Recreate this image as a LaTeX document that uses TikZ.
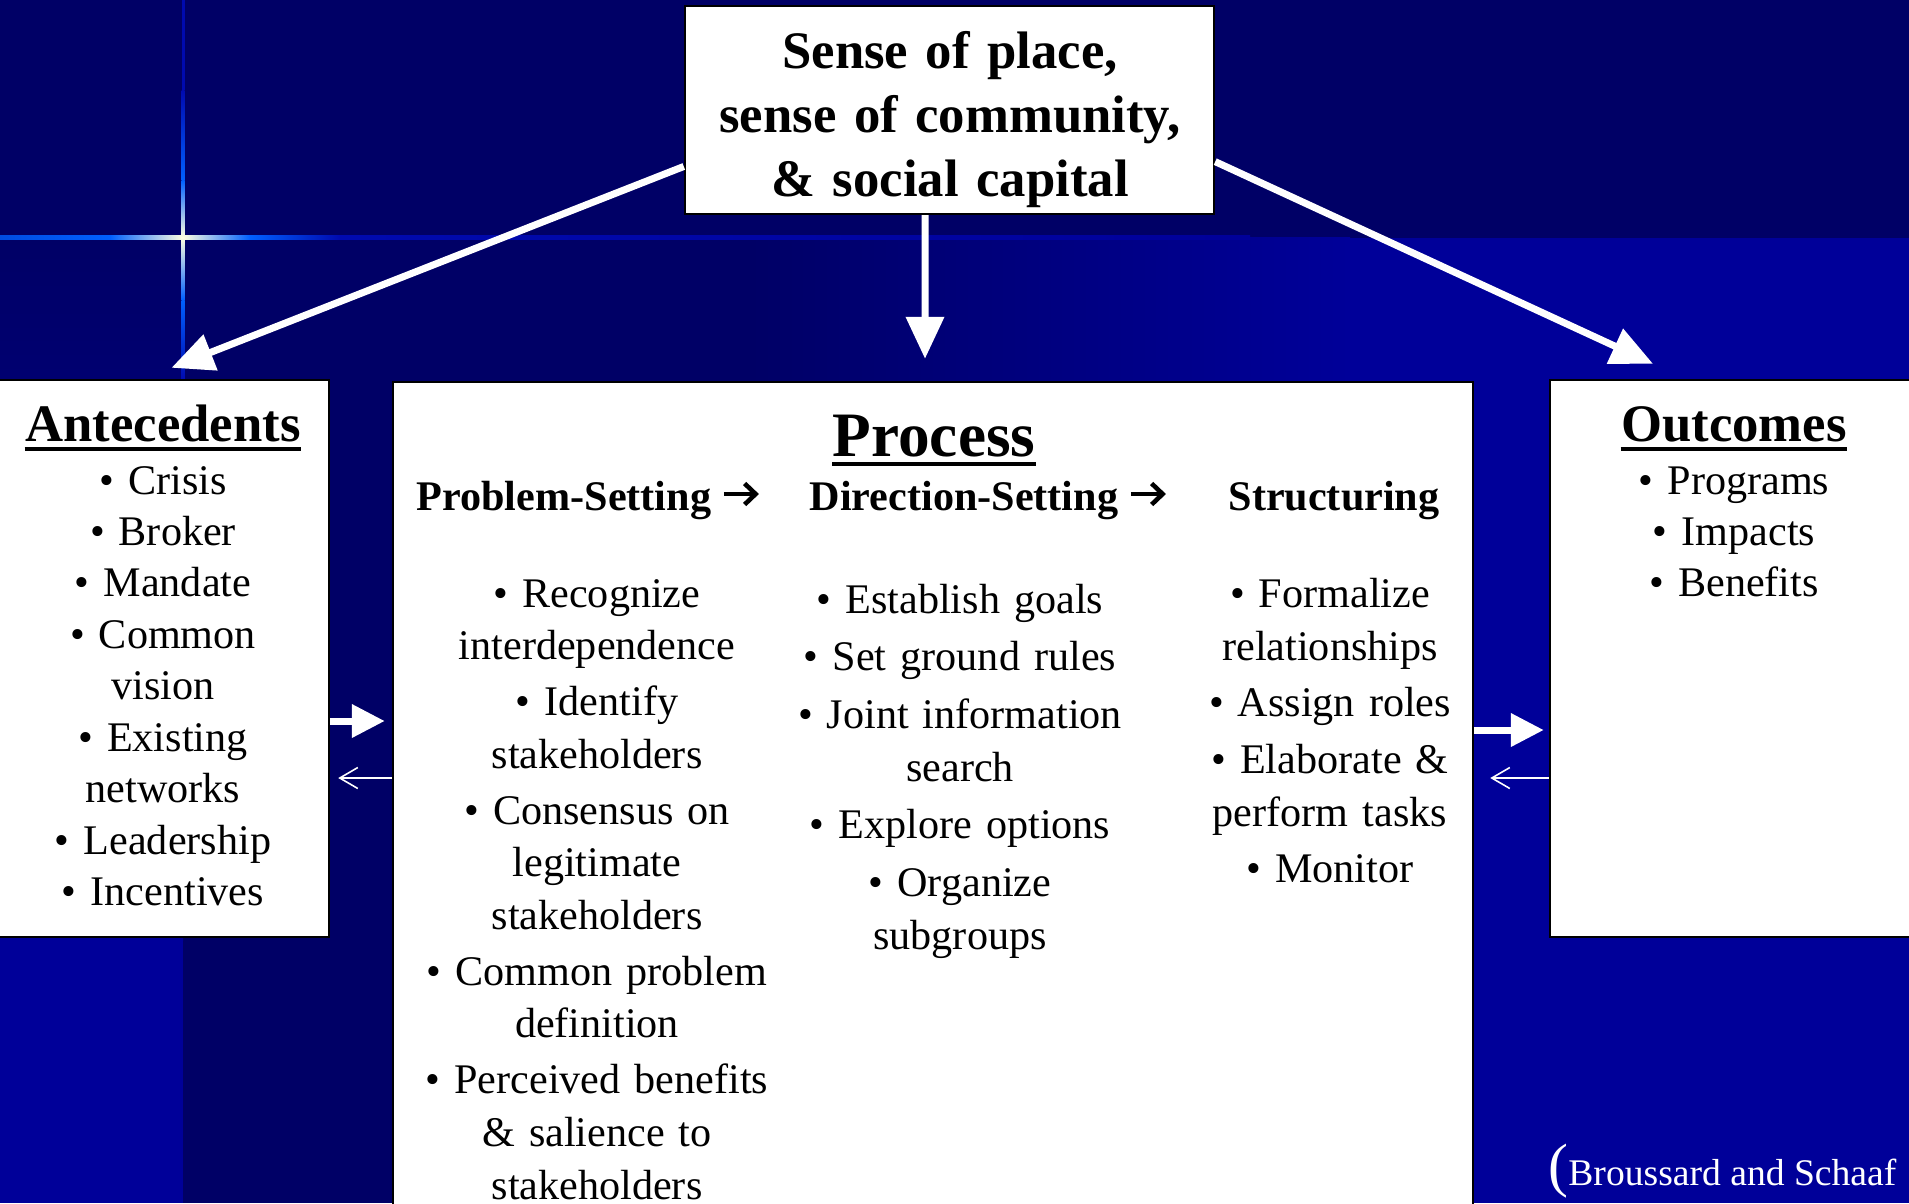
\documentclass[tikz,border=0pt]{standalone}
\usepackage{fontspec}
\setmainfont{Liberation Serif}
\usetikzlibrary{arrows.meta}
\definecolor{bgdark}{RGB}{0,0,102}
\definecolor{bgbright}{RGB}{0,0,153}
\definecolor{glintdim}{RGB}{0,10,175}
\definecolor{glintblue}{RGB}{0,95,255}
\definecolor{glintcore}{RGB}{255,255,225}
\def\underrule(#1){\draw[line width=1.1pt] ([yshift=-2.2pt]#1.base west) -- ([yshift=-2.2pt]#1.base east);}
\def\steparrow{\tikz[baseline=-0.16cm]\draw[line width=1.3pt, -{Straight Barb[length=1.1mm,width=2.1mm]}] (0, 0) -- (0.35, 0);}
\tikzset{
	panel/.style={draw=black, line width=0.7pt, fill=white, inner sep=0pt},
	boxtext/.style={font=\bfseries\fontsize{15}{18.2}\selectfont, text width=5.2cm, align=center, anchor=base, inner sep=0pt},
	heading/.style={font=\bfseries\fontsize{15}{18}\selectfont, anchor=base, inner sep=0pt},
	colhead/.style={font=\bfseries\fontsize{12}{14}\selectfont, anchor=base, inner sep=0pt},
	itemlist/.style={font=\fontsize{12}{15.08}\selectfont, align=center, anchor=base, inner sep=0pt},
	bigarrow/.style={white, line width=2pt, -{Triangle[length=4.2mm,width=3.7mm]}},
	sidearrow/.style={white, line width=2pt, -{Triangle[length=3.3mm,width=3.2mm]}},
	backarrow/.style={white, line width=0.45pt, -{Straight Barb[length=1.8mm,width=2.1mm]}}
}

\begin{document}
\begin{tikzpicture}
	%%%%% START %%%%%
	\clip (0, 0) rectangle (19.09, -12.03);
	
	\fill[bgdark] (0, 0) rectangle (19.09, -12.03);
	\shade[left color=bgdark, right color=bgbright] (7.5, -2.375) rectangle (13.5, -12.03);
	\fill[bgbright] (13.5, -2.375) rectangle (19.09, -12.03);
	\shade[top color=bgdark, bottom color=bgbright] (0, -2.375) rectangle (1.83, -9.4);
	\fill[bgbright] (0, -9.4) rectangle (1.83, -12.03);
	
	% glint lines
	\shade[left color=glintblue!80!bgdark, right color=glintblue] (0, -2.355) rectangle (1.1, -2.395);
	\shade[left color=glintblue, right color=glintcore] (1.1, -2.355) rectangle (1.83, -2.395);
	\shade[left color=glintcore, right color=glintblue] (1.83, -2.355) rectangle (2.5, -2.395);
	\shade[left color=glintblue, right color=glintdim] (2.5, -2.355) rectangle (3.4, -2.395);
	\shade[left color=glintdim, right color=bgbright] (3.4, -2.355) rectangle (12.5, -2.395);
	\fill[glintdim] (1.815, 0) rectangle (1.845, -0.9);
	\shade[top color=glintdim, bottom color=glintblue] (1.815, -0.9) rectangle (1.845, -1.8);
	\shade[top color=glintblue, bottom color=glintcore] (1.815, -1.8) rectangle (1.845, -2.375);
	\shade[top color=glintcore, bottom color=glintblue] (1.815, -2.375) rectangle (1.845, -3.0);
	\shade[top color=glintblue, bottom color=glintdim] (1.815, -3.0) rectangle (1.845, -3.8);
	
	\node[panel, minimum width=5.29cm, minimum height=2.08cm] (top) at (9.495, -1.1) {};
	\node[panel, minimum width=3.39cm, minimum height=5.57cm] (ante) at (1.595, -6.585) {};
	\node[panel, minimum width=10.8cm, minimum height=8.4cm] (proc) at (9.33, -8.02) {};
	\node[panel, minimum width=3.65cm, minimum height=5.57cm] (outc) at (17.325, -6.585) {};
	
	\draw[bigarrow] (top.192) -- ([xshift=1.2mm, yshift=1.1mm]ante.north);
	\draw[bigarrow] ([xshift=-2.45mm]top.south) -- ([xshift=-0.8mm, yshift=2.2mm]proc.north);
	\draw[bigarrow] (top.349) -- ([xshift=-7.95mm, yshift=1.5mm]outc.north);
	
	\draw[sidearrow, shorten >=0.7mm] (ante.east |- 0, -7.21) -- (proc.west |- 0, -7.21);
	\draw[backarrow, shorten >=0.8mm] (proc.west |- 0, -7.78) -- (ante.east |- 0, -7.78);
	\draw[sidearrow, shorten >=0.5mm] (proc.east |- 0, -7.3) -- (outc.west |- 0, -7.3);
	\draw[backarrow, shorten >=1.6mm] (outc.west |- 0, -7.78) -- (proc.east |- 0, -7.78);
	
	\node[boxtext] (toptxt) at (9.5, -0.685) {Sense of place,\\sense of community,\\\& social capital};
	
	\node[heading] (anteT) at (1.63, -4.41) {Antecedents};
	\underrule(anteT)
	\node[itemlist, text width=3.2cm, font=\fontsize{12}{14.65}\selectfont] (anteL) at (1.63, -4.94) {• Crisis\\• Broker\\• Mandate\\• Common\\vision\\• Existing\\networks\\• Leadership\\• Incentives};
	
	\node[heading, font=\bfseries\fontsize{18}{22}\selectfont] (procT) at (9.34, -4.56) {Process};
	\underrule(procT)
	\node[colhead] (probH) at (5.89, -5.1) {Problem-Setting \steparrow};
	\node[colhead] (dirH) at (9.89, -5.1) {Direction-Setting \steparrow};
	\node[colhead] (strH) at (13.34, -5.1) {Structuring};
	\node[itemlist, text width=3.6cm, font=\fontsize{12}{14.95}\selectfont] (probL) at (5.97, -6.07) {• Recognize\\interdependence\\[1pt]• Identify\\stakeholders\\[1pt]• Consensus on\\legitimate\\stakeholders\\[1pt]• Common problem\\definition\\[1pt]• Perceived benefits\\\& salience to\\stakeholders};
	\node[itemlist, text width=3.6cm] (dirL) at (9.6, -6.13) {• Establish goals\\[1.3pt]• Set ground rules\\[1.3pt]• Joint information\\search\\[1.3pt]• Explore options\\[1.3pt]• Organize\\subgroups};
	\node[itemlist, text width=3.2cm] (strL) at (13.3, -6.07) {• Formalize\\relationships\\[1pt]• Assign roles\\[1pt]• Elaborate \&\\perform tasks\\[1pt]• Monitor};
	
	\node[heading] (outcT) at (17.34, -4.41) {Outcomes};
	\underrule(outcT)
	\node[itemlist, text width=3.2cm, font=\fontsize{12}{14.65}\selectfont] (outcL) at (17.34, -4.94) {• Programs\\• Impacts\\• Benefits};
	
	\node[anchor=base east, inner sep=0pt, text=white, font=\fontsize{10.7}{12}\selectfont] (cite) at (18.97, -11.85) {{\fontsize{17}{17}\selectfont(}Broussard and Schaaf};
	
	%%%%% END %%%%%
\end{tikzpicture}
\end{document}
